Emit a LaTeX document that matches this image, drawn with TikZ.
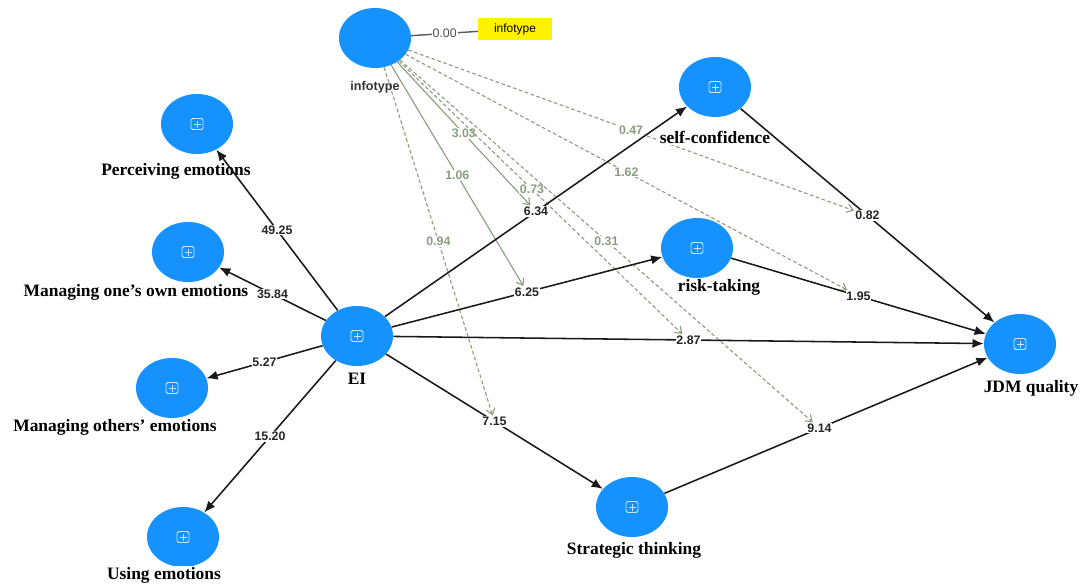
\documentclass[tikz,border=0pt]{standalone}
\usepackage{fontspec}
\setmainfont{Liberation Serif}
\setsansfont{Liberation Sans}
\usetikzlibrary{arrows.meta, shapes.geometric, backgrounds}
\definecolor{plsblue}{RGB}{22,146,255}
\definecolor{modgreen}{RGB}{138,158,128}

\begin{document}
\begin{tikzpicture}[x=0.025cm, y=-0.025cm,
      latent/.style={ellipse, fill=plsblue, minimum width=1.8cm, minimum height=1.5cm, inner sep=0pt},
      lvname/.style={font=\fontsize{12.4}{14}\selectfont\bfseries, fill=white, inner sep=1pt},
      pathlbl/.style={font=\sffamily\bfseries\fontsize{8.8}{10}\selectfont, fill=white, inner sep=0.6pt, text=black!85},
      modlbl/.style={pathlbl, text=modgreen},
      arr/.style={-{Latex[length=2.8mm, width=2.3mm]}, line width=1.1pt, black!90},
      modarr/.style={-{Straight Barb[length=1.5mm, width=2.2mm]}, line width=0.8pt, modgreen},
      nsig/.style={modarr, dash pattern=on 2.6pt off 1.8pt},
      icon/.style={draw=white!75!plsblue, line width=0.7pt, rounded corners=1.2pt}]
      \useasboundingbox (0,0) rectangle (1088,585);
      % constructs
      \node[latent] (info) at (375,38) {};
      \node[latent] (pe) at (197,124) {};
      \node[latent] (mo) at (188,252) {};
      \node[latent] (mt) at (172,388) {};
      \node[latent] (ue) at (183,537) {};
      \node[latent] (ei) at (357,336) {};
      \node[latent] (sc) at (715,87) {};
      \node[latent] (rt) at (697,248) {};
      \node[latent] (st) at (632,507) {};
      \node[latent] (jdm) at (1020,344) {};
      \foreach \n in {pe, mo, mt, ue, ei, sc, rt, st, jdm} {
        \draw[icon] ([shift={(-6,-5.5)}]\n.center) rectangle ([shift={(6,5.5)}]\n.center);
        \draw[icon] ([shift={(-3.5,0)}]\n.center) -- ([shift={(3.5,0)}]\n.center)
          ([shift={(0,-3.5)}]\n.center) -- ([shift={(0,3.5)}]\n.center);
      }
      % names
      \node[lvname] (pe-l) at (176,171) {Perceiving emotions};
      \node[lvname] (mo-l) at (136,292) {Managing one’s own emotions};
      \node[lvname] (mt-l) at (115,427) {Managing others’ emotions};
      \node[lvname] (ue-l) at (164,575) {Using emotions};
      \node[lvname] (ei-l) at (357,379) {EI};
      \node[lvname] (sc-l) at (715,137) {self-confidence};
      \node[lvname] (rt-l) at (719,287) {risk-taking};
      \node[lvname] (st-l) at (634,550) {Strategic thinking};
      \node[lvname] (jdm-l) at (1031,388) {JDM quality};
      \node[font=\sffamily\bfseries\fontsize{9}{10}\selectfont, text=black!80] (info-l) at (375,87) {infotype};
      \node[fill=yellow, minimum width=1.83cm, minimum height=0.53cm, font=\sffamily\fontsize{8.5}{10}\selectfont] (ind) at (515,29) {infotype};
      % paths
      \draw[black!65, line width=1pt] (info) -- node[pathlbl, font=\sffamily\fontsize{8.8}{10}\selectfont, text=black!70] (l000) {0.00} (ind);
      \draw[arr] (ei) -- node[pathlbl] (l4925) {49.25} (pe);
      \draw[arr] (ei) -- node[pathlbl] (l3584) {35.84} (mo);
      \draw[arr] (ei) -- node[pathlbl] (l527) {5.27} (mt);
      \draw[arr] (ei) -- node[pathlbl] (l1520) {15.20} (ue);
      \draw[arr] (ei) -- node[pathlbl] (l634) {6.34} (sc);
      \draw[arr] (ei) -- node[pathlbl] (l625) {6.25} (rt);
      \draw[arr] (ei) -- node[pathlbl] (l287) {2.87} (jdm);
      \draw[arr] (ei) -- node[pathlbl] (l715) {7.15} (st);
      \draw[arr] (sc) -- node[pathlbl] (l082) {0.82} (jdm);
      \draw[arr] (rt) -- node[pathlbl] (l195) {1.95} (jdm);
      \draw[arr] (st) -- node[pathlbl, pos=0.48] (l914) {9.14} (jdm);
      % moderating effects
      \begin{scope}[on background layer]
        \draw[modarr] (info) -- node[modlbl] {3.03} (l634);
        \draw[modarr] (info) -- node[modlbl] {1.06} (l625);
        \draw[nsig] (info) -- node[modlbl, pos=0.47] {0.73} (l287);
        \draw[nsig] (info) -- node[modlbl] {0.94} (l715);
        \draw[nsig] (info) -- node[modlbl] {0.47} (l082);
        \draw[nsig] (info) -- node[modlbl] {1.62} (l195);
        \draw[nsig] (info) -- node[modlbl] {0.31} (l914);
      \end{scope}
    \end{tikzpicture}
\end{document}
